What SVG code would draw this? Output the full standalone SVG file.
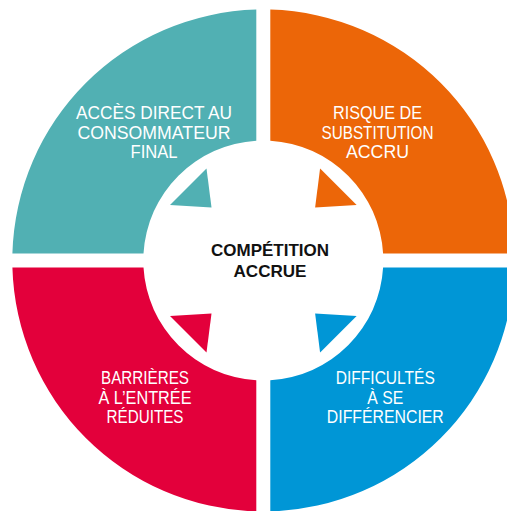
<svg xmlns="http://www.w3.org/2000/svg" width="507" height="511" viewBox="0 0 507 511">
  <style>
    .lbl { font-family: "Liberation Sans", Arial, sans-serif; font-size: 17.5px; fill: #ffffff; text-anchor: middle; }
    .core { font-family: "Liberation Sans", Arial, sans-serif; font-size: 16.5px; font-weight: bold; fill: #111111; text-anchor: middle; }
    .teal { fill: #51b0b3; }
    .orange { fill: #ec6608; }
    .red { fill: #e3003b; }
    .blue { fill: #0096d6; }
  </style>
  <rect width="507" height="511" fill="#ffffff"/>

  <!-- four quarter-ring segments around the centre (263.3, 260.5) -->
  <g id="acces-direct">
    <path class="teal" d="M256.3 9.6 A251 251 0 0 0 12.4 253.5 L143.5 253.5 A120 120 0 0 1 256.3 140.7 Z"/>
    <text class="lbl" x="154" y="119" textLength="156" lengthAdjust="spacingAndGlyphs">ACCÈS DIRECT AU</text>
    <text class="lbl" x="154" y="139.3" textLength="153" lengthAdjust="spacingAndGlyphs">CONSOMMATEUR</text>
    <text class="lbl" x="154" y="158.3" textLength="47" lengthAdjust="spacingAndGlyphs">FINAL</text>
  </g>

  <g id="risque-substitution">
    <path class="orange" d="M270.3 9.6 L270.3 140.7 A120 120 0 0 1 383.1 253.5 L514.2 253.5 A251 251 0 0 0 270.3 9.6 Z"/>
    <text class="lbl" x="377.5" y="119" textLength="89" lengthAdjust="spacingAndGlyphs">RISQUE DE</text>
    <text class="lbl" x="377.5" y="139.3" textLength="112" lengthAdjust="spacingAndGlyphs">SUBSTITUTION</text>
    <text class="lbl" x="377.5" y="158.3" textLength="63" lengthAdjust="spacingAndGlyphs">ACCRU</text>
  </g>

  <g id="barrieres-entree">
    <path class="red" d="M256.3 380.3 L256.3 511.4 A251 251 0 0 1 12.4 267.5 L143.5 267.5 A120 120 0 0 0 256.3 380.3 Z"/>
    <text class="lbl" x="145" y="384" textLength="88" lengthAdjust="spacingAndGlyphs">BARRIÈRES</text>
    <text class="lbl" x="145" y="403.7" textLength="93" lengthAdjust="spacingAndGlyphs">À L’ENTRÉE</text>
    <text class="lbl" x="145" y="423.3" textLength="77" lengthAdjust="spacingAndGlyphs">RÉDUITES</text>
  </g>

  <g id="difficultes-differencier">
    <path class="blue" d="M383.1 267.5 L514.2 267.5 A251 251 0 0 1 270.3 511.4 L270.3 380.3 A120 120 0 0 0 383.1 267.5 Z"/>
    <text class="lbl" x="385.3" y="384" textLength="99" lengthAdjust="spacingAndGlyphs">DIFFICULTÉS</text>
    <text class="lbl" x="385.3" y="403.7" textLength="36" lengthAdjust="spacingAndGlyphs">À SE</text>
    <text class="lbl" x="385.3" y="423.3" textLength="117" lengthAdjust="spacingAndGlyphs">DIFFÉRENCIER</text>
  </g>

  <!-- centre -->
  <g id="competition-accrue">
    <text class="core" x="270" y="256" textLength="118" lengthAdjust="spacingAndGlyphs">COMPÉTITION</text>
    <text class="core" x="270" y="276.7" textLength="73" lengthAdjust="spacingAndGlyphs">ACCRUE</text>
  </g>

  <!-- arrowheads pointing from each segment towards the centre -->
  <g id="connectors">
    <polygon class="teal" points="170,205 206.5,168.5 211.5,207.5"/>
    <polygon class="orange" points="356.6,205 320.1,168.5 315.1,207.5"/>
    <polygon class="red" points="170,316 206.5,352.5 211.5,313.5"/>
    <polygon class="blue" points="356.6,316 320.1,352.5 315.1,313.5"/>
  </g>
</svg>
